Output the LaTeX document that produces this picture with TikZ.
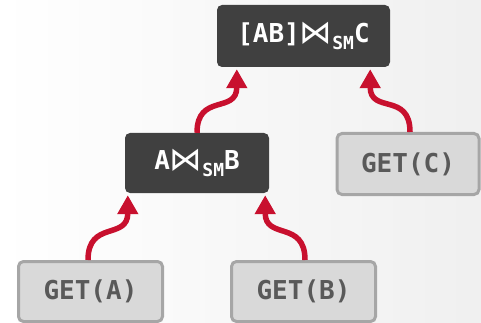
\documentclass[tikz,border=0pt]{standalone}
\usepackage{fontspec}
\setmonofont{DejaVu Sans Mono}
\newfontfamily\symfont{DejaVu Sans}
\usetikzlibrary{arrows.meta}
\definecolor{darkbox}{HTML}{404040}
\definecolor{lightbox}{HTML}{D9D9D9}
\definecolor{lightborder}{HTML}{A6A6A6}
\definecolor{gettext}{HTML}{595959}
\definecolor{flow}{HTML}{C8102E}
\newcommand{\smjoin}{\raisebox{-1pt}{\scalebox{1.25}{\symfont\mdseries ⋈}}\raisebox{-7pt}{\fontsize{18pt}{18pt}\selectfont SM}}
\begin{document}
\begin{tikzpicture}[x=1pt,y=-1pt,
  opbox/.style={fill=darkbox, rounded corners=5pt, text=white, inner sep=0pt,
    font=\ttfamily\bfseries\fontsize{26pt}{26pt}\selectfont},
  getbox/.style={fill=lightbox, draw=lightborder, line width=3pt, rounded corners=5pt,
    text=gettext, inner sep=0pt, font=\ttfamily\bfseries\fontsize{26pt}{26pt}\selectfont},
  flowarrow/.style={draw=flow, line width=5.5pt, -{Triangle[length=19pt,width=20pt]}}]
\useasboundingbox (0,0) rectangle (481,323);
\shade[left color=white, right color=gray!12] (0,0) rectangle (481,323);
\node[opbox, minimum width=173pt, minimum height=62pt] (tb) at (303.5,36) {[AB]\smjoin C};
\node[opbox, minimum width=144pt, minimum height=60pt] (mb) at (197,163) {A\smjoin B};
\node[getbox, minimum width=144pt, minimum height=60pt] (ga) at (90.5,291.5) {GET(A)};
\node[getbox, minimum width=144pt, minimum height=60pt] (gb) at (303.5,291.5) {GET(B)};
\node[getbox, minimum width=142pt, minimum height=61pt] (gc) at (408,164) {GET(C)};
\draw[flowarrow] ([xshift=-2.5pt]ga.north) .. controls +(0,-40) and +(0,45) .. ([xshift=3pt,yshift=-2pt]mb.south west);
\draw[flowarrow] ([xshift=1.5pt]gb.north) .. controls +(0,-40) and +(0,45) .. ([xshift=-4pt,yshift=-2pt]mb.south east);
\draw[flowarrow] (mb.north) .. controls +(0,-40) and +(0,45) .. ([xshift=20pt,yshift=-2pt]tb.south west);
\draw[flowarrow] ([xshift=2pt]gc.north) .. controls +(0,-40) and +(0,45) .. ([xshift=-20pt,yshift=-2pt]tb.south east);
\end{tikzpicture}
\end{document}
